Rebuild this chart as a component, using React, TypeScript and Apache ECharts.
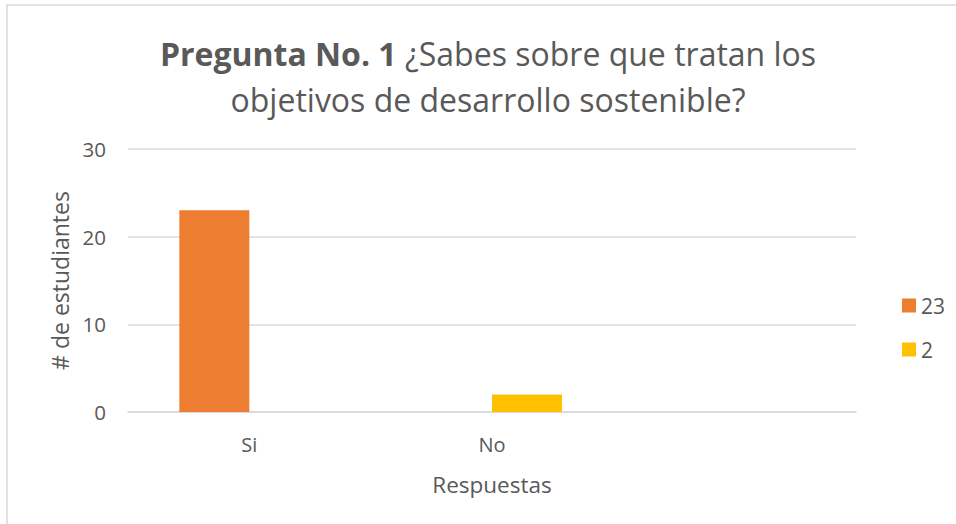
import React, { useEffect, useRef } from "react";
import * as echarts from "echarts";

const categories = ["Si", "No", ""];
const seriesNames = ["23", "2"];
const seriesA = [23, 0, 0];
const seriesB = [0, 2, 0];
const colors = ["#ED7D31", "#FFC000"];
const yTicks = { min: 0, max: 30, interval: 10 };
const titleBold = "Pregunta No. 1";
const titleRest = " ¿Sabes sobre que tratan los";
const titleLine2 = "objetivos de desarrollo sostenible?";
const yName = "# de estudiantes";
const xName = "Respuestas";

const FONT = "'Open Sans', 'Noto Sans', sans-serif";
const GREY = "#595959";

export default function App() {
  const ref = useRef<HTMLDivElement>(null);
  useEffect(() => {
    document.body.style.margin = "0";
    const chart = echarts.init(ref.current!, null, { renderer: "svg" });
    chart.setOption({
      animation: false,
      backgroundColor: "#ffffff",
      textStyle: { fontFamily: FONT },
      graphic: [
        {
          type: "rect",
          shape: { x: 7, y: 5, width: 1000, height: 600 },
          style: { fill: "none", stroke: "#d9d9d9", lineWidth: 1.5 },
          silent: true,
        },
        {
          type: "text",
          x: 488,
          y: 30,
          style: {
            text: "{b|" + titleBold + "}" + titleRest + "\n" + titleLine2,
            align: "center",
            fill: GREY,
            fontFamily: FONT,
            fontSize: 32,
            lineHeight: 46,
            rich: {
              b: { fontWeight: "bold", fontSize: 32, fontFamily: FONT, fill: GREY, lineHeight: 46 },
            },
          },
        },
      ],
      legend: {
        orient: "vertical",
        left: 897,
        top: 290,
        itemWidth: 14,
        itemHeight: 14,
        itemGap: 23,
        icon: "rect",
        data: seriesNames,
        textStyle: { color: GREY, fontSize: 21, fontFamily: FONT },
      },
      grid: { left: 128, right: 100, top: 149, bottom: 112 },
      xAxis: {
        type: "category",
        data: categories,
        axisTick: { show: false },
        axisLine: { lineStyle: { color: "#d9d9d9", width: 1.5 } },
        axisLabel: { color: GREY, fontSize: 20, margin: 22, fontFamily: FONT },
        name: xName,
        nameLocation: "middle",
        nameGap: 61,
        nameTextStyle: { color: GREY, fontSize: 22.5, fontFamily: FONT },
      },
      yAxis: {
        type: "value",
        min: yTicks.min,
        max: yTicks.max,
        interval: yTicks.interval,
        axisLine: { show: false },
        axisTick: { show: false },
        splitLine: { lineStyle: { color: "#d9d9d9", width: 1.5 } },
        axisLabel: { color: GREY, fontSize: 20.5, margin: 22, fontFamily: FONT },
        name: yName,
        nameLocation: "middle",
        nameGap: 54,
        nameRotate: 90,
        nameTextStyle: { color: GREY, fontSize: 23, fontFamily: FONT },
      },
      series: [
        {
          name: seriesNames[0],
          type: "bar",
          data: seriesA,
          barWidth: 70,
          barGap: "0%",
          itemStyle: { color: colors[0] },
        },
        {
          name: seriesNames[1],
          type: "bar",
          data: seriesB,
          barWidth: 70,
          barGap: "0%",
          itemStyle: { color: colors[1] },
        },
      ],
    });
    return () => chart.dispose();
  }, []);
  return <div ref={ref} style={{ width: 956, height: 524 }} />;
}
